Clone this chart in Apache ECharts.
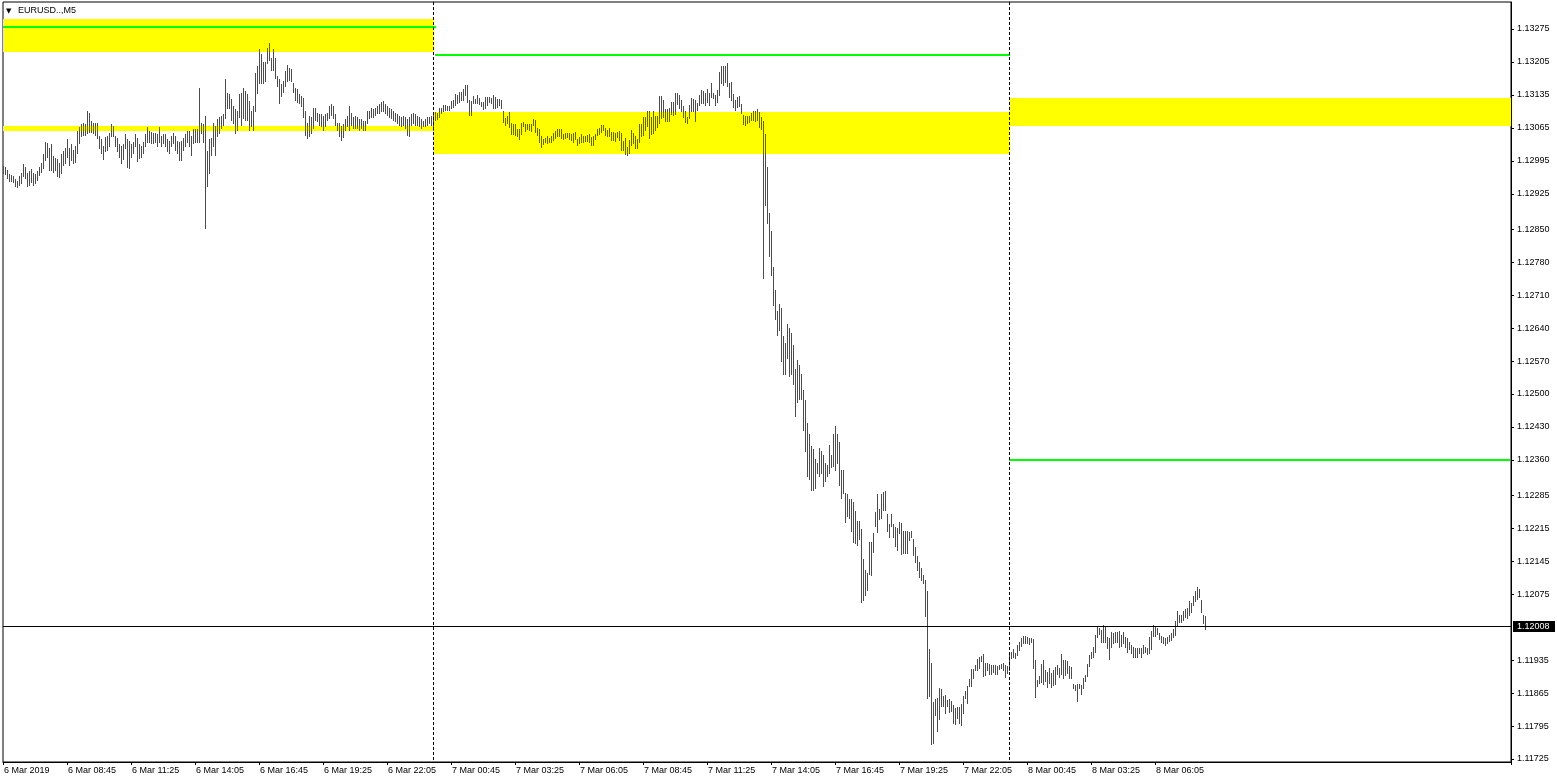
<!DOCTYPE html>
<html><head><meta charset="utf-8">
<script src="https://cdn.jsdelivr.net/npm/echarts@6/dist/echarts.min.js"></script>
<style>html,body{margin:0;padding:0;background:#fff;}#c{width:1557px;height:783px;}</style>
</head><body><div id="c"></div>
<script>
const chartTitle = 'EURUSD..,M5';
const slotCount = 754;
const timeTickStep = 32;
const timeTickLabels = ['6 Mar 2019','6 Mar 08:45','6 Mar 11:25','6 Mar 14:05','6 Mar 16:45','6 Mar 19:25','6 Mar 22:05','7 Mar 00:45','7 Mar 03:25','7 Mar 06:05','7 Mar 08:45','7 Mar 11:25','7 Mar 14:05','7 Mar 16:45','7 Mar 19:25','7 Mar 22:05','8 Mar 00:45','8 Mar 03:25','8 Mar 06:05'];
const priceTicks = [1.11725,1.11795,1.11865,1.11935,1.12075,1.12145,1.12215,1.12285,1.12360,1.12430,1.12500,1.12570,1.12640,1.12710,1.12780,1.12850,1.12925,1.12995,1.13065,1.13135,1.13205,1.13275];
const priceMin = 1.117186;
const priceMax = 1.133323;
const currentPrice = 1.12008;

const highs = [
1.12983,1.12980,1.12975,1.12965,1.12963,1.12962,1.12955,1.12951,1.12962,1.12969,
1.12987,1.12980,1.12969,1.12972,1.12976,1.12969,1.12965,1.12972,1.12980,1.12990,
1.13008,1.13033,1.13031,1.13022,1.13029,1.13004,1.13001,1.12997,1.12990,1.13008,
1.13015,1.13022,1.13040,1.13022,1.13029,1.13018,1.13026,1.13057,1.13065,1.13072,
1.13074,1.13072,1.13100,1.13096,1.13079,1.13074,1.13074,1.13074,1.13047,1.13040,
1.13026,1.13045,1.13047,1.13054,1.13072,1.13068,1.13047,1.13043,1.13029,1.13026,
1.13029,1.13050,1.13040,1.13036,1.13029,1.13033,1.13050,1.13043,1.13029,1.13026,
1.13033,1.13050,1.13065,1.13057,1.13055,1.13054,1.13054,1.13052,1.13065,1.13047,
1.13050,1.13050,1.13040,1.13036,1.13047,1.13054,1.13047,1.13036,1.13033,1.13036,
1.13043,1.13050,1.13057,1.13057,1.13047,1.13061,1.13061,1.13061,1.13149,1.13075,
1.13072,1.13089,1.13015,1.13040,1.13043,1.13075,1.13068,1.13082,1.13086,1.13089,
1.13093,1.13167,1.13139,1.13135,1.13125,1.13111,1.13103,1.13100,1.13135,1.13139,
1.13149,1.13142,1.13135,1.13121,1.13100,1.13111,1.13181,1.13195,1.13231,1.13220,
1.13203,1.13203,1.13234,1.13245,1.13213,1.13231,1.13213,1.13174,1.13167,1.13157,
1.13164,1.13185,1.13197,1.13192,1.13188,1.13160,1.13149,1.13146,1.13135,1.13132,
1.13128,1.13100,1.13075,1.13089,1.13086,1.13107,1.13107,1.13096,1.13093,1.13093,
1.13089,1.13093,1.13096,1.13111,1.13114,1.13111,1.13093,1.13075,1.13075,1.13068,
1.13072,1.13082,1.13089,1.13111,1.13096,1.13086,1.13089,1.13086,1.13082,1.13082,
1.13079,1.13079,1.13100,1.13100,1.13107,1.13105,1.13107,1.13111,1.13114,1.13118,
1.13121,1.13114,1.13111,1.13107,1.13103,1.13100,1.13096,1.13093,1.13089,1.13086,
1.13089,1.13086,1.13082,1.13086,1.13093,1.13096,1.13093,1.13089,1.13086,1.13082,
1.13079,1.13082,1.13086,1.13086,1.13089,1.13093,
1.13097,1.13095,1.13107,1.13107,1.13112,1.13112,1.13110,1.13110,1.13121,1.13124,
1.13135,1.13133,1.13140,1.13140,1.13146,1.13154,1.13154,1.13124,1.13122,1.13131,
1.13126,1.13133,1.13128,1.13119,1.13119,1.13130,1.13130,1.13130,1.13128,1.13133,
1.13130,1.13126,1.13126,1.13124,1.13100,1.13085,1.13089,1.13097,1.13075,1.13073,
1.13073,1.13062,1.13062,1.13075,1.13076,1.13073,1.13073,1.13073,1.13073,1.13083,
1.13080,1.13064,1.13061,1.13047,1.13041,1.13043,1.13047,1.13043,1.13047,1.13054,
1.13057,1.13061,1.13062,1.13062,1.13050,1.13054,1.13054,1.13054,1.13050,1.13054,
1.13055,1.13041,1.13045,1.13050,1.13047,1.13047,1.13048,1.13050,1.13045,1.13047,
1.13050,1.13062,1.13064,1.13071,1.13071,1.13064,1.13059,1.13064,1.13055,1.13055,
1.13054,1.13055,1.13057,1.13054,1.13036,1.13043,1.13024,1.13039,1.13059,1.13054,
1.13047,1.13041,1.13073,1.13073,1.13088,1.13088,1.13100,1.13100,1.13088,1.13100,
1.13090,1.13090,1.13131,1.13131,1.13123,1.13103,1.13103,1.13107,1.13119,1.13119,
1.13137,1.13137,1.13133,1.13124,1.13110,1.13100,1.13088,1.13112,1.13128,1.13126,
1.13124,1.13117,1.13133,1.13144,1.13142,1.13139,1.13146,1.13137,1.13160,1.13139,
1.13133,1.13144,1.13182,1.13196,1.13195,1.13196,1.13201,1.13160,1.13161,1.13135,
1.13123,1.13130,1.13131,1.13114,1.13092,1.13090,1.13089,1.13090,1.13095,1.13100,
1.13100,1.13103,1.13097,1.13088,
1.13078,1.13050,1.12981,1.12884,1.12844,1.12769,1.12719,1.12676,1.12691,1.12681,
1.12623,1.12608,1.12648,1.12638,1.12629,
1.12604,1.12553,1.12572,1.12560,1.12541,1.12507,1.12487,1.12437,1.12415,1.12388,
1.12383,1.12360,1.12352,1.12385,1.12378,1.12369,1.12353,1.12349,1.12390,1.12369,
1.12413,1.12432,1.12415,1.12397,1.12337,1.12337,1.12289,1.12286,1.12275,1.12275,
1.12270,1.12250,1.12229,1.12229,1.12213,1.12148,1.12125,1.12119,1.12185,1.12185,
1.12204,1.12248,1.12286,1.12255,1.12286,1.12291,1.12293,1.12245,1.12222,1.12245,
1.12222,1.12217,1.12215,1.12227,1.12226,1.12207,1.12208,1.12208,1.12206,1.12208,
1.12192,1.12173,1.12155,1.12142,1.12130,1.12114,1.12105,1.12081,1.11958,1.11927,
1.11845,1.11852,1.11854,1.11875,1.11873,1.11858,1.11859,1.11849,1.11851,1.11847,
1.11838,1.11833,1.11835,1.11835,1.11840,1.11858,1.11868,1.11879,1.11893,1.11914,
1.11914,1.11923,1.11937,1.11941,1.11943,1.11946,1.11928,1.11928,1.11925,1.11923,
1.11923,1.11923,1.11921,1.11923,
1.11925,1.11928,1.11923,1.11921,1.11946,1.11951,1.11957,1.11950,1.11965,1.11972,
1.11981,1.11986,1.11985,1.11984,1.11981,1.11981,1.11979,1.11934,1.11891,1.11900,
1.11925,1.11934,1.11913,1.11908,1.11918,1.11906,1.11913,1.11920,1.11923,1.11918,
1.11946,1.11935,1.11935,1.11932,1.11921,1.11920,1.11884,1.11882,1.11884,1.11884,
1.11882,1.11896,1.11903,1.11925,1.11944,1.11951,1.11962,1.11988,1.12005,1.12003,
1.11998,1.12008,1.12007,1.11984,1.11981,1.11993,1.11991,1.11993,1.11993,1.11996,
1.11988,1.11993,1.11984,1.11981,1.11972,1.11967,1.11962,1.11960,1.11960,1.11960,
1.11960,1.11967,1.11962,1.11960,1.11984,1.11996,1.12008,1.12006,1.12003,1.11991,
1.11986,1.11984,1.11981,1.11984,1.11988,1.11991,1.11999,1.12017,1.12038,1.12029,
1.12029,1.12038,1.12043,1.12045,1.12059,1.12056,1.12071,1.12081,1.12090,1.12085,
1.12061,1.12029,1.12027
];

const lows = [
1.12969,1.12968,1.12958,1.12953,1.12953,1.12951,1.12941,1.12939,1.12944,1.12948,
1.12962,1.12958,1.12941,1.12944,1.12951,1.12944,1.12948,1.12955,1.12965,1.12972,
1.12980,1.12997,1.13004,1.12976,1.12976,1.12972,1.12976,1.12962,1.12960,1.12969,
1.12987,1.12990,1.13004,1.12987,1.12997,1.12990,1.12992,1.13011,1.13033,1.13047,
1.13050,1.13050,1.13054,1.13057,1.13057,1.13054,1.13050,1.13043,1.13022,1.13011,
1.12999,1.13015,1.13017,1.13026,1.13047,1.13047,1.13026,1.13015,1.13004,1.12990,
1.12999,1.13022,1.12983,1.12980,1.13004,1.13011,1.13026,1.12994,1.13001,1.13004,
1.13011,1.13026,1.13036,1.13036,1.13033,1.13033,1.13036,1.13026,1.13036,1.13027,
1.13033,1.13026,1.13015,1.13011,1.13026,1.13033,1.13018,1.13011,1.12997,1.12997,
1.13018,1.13026,1.13036,1.13026,1.13008,1.13033,1.13036,1.13034,1.13036,1.13054,
1.13036,1.12852,1.12942,1.12969,1.13008,1.13026,1.13008,1.13047,1.13054,1.13065,
1.13072,1.13086,1.13107,1.13107,1.13082,1.13075,1.13054,1.13061,1.13089,1.13072,
1.13086,1.13082,1.13082,1.13061,1.13068,1.13060,1.13100,1.13139,1.13160,1.13160,
1.13160,1.13164,1.13203,1.13210,1.13188,1.13187,1.13171,1.13153,1.13118,1.13132,
1.13142,1.13153,1.13164,1.13167,1.13164,1.13142,1.13125,1.13121,1.13118,1.13111,
1.13089,1.13050,1.13043,1.13047,1.13054,1.13065,1.13082,1.13079,1.13072,1.13068,
1.13061,1.13068,1.13082,1.13086,1.13093,1.13086,1.13072,1.13061,1.13047,1.13040,
1.13045,1.13061,1.13068,1.13061,1.13072,1.13065,1.13065,1.13065,1.13061,1.13065,
1.13061,1.13061,1.13075,1.13086,1.13089,1.13089,1.13093,1.13096,1.13096,1.13100,
1.13100,1.13096,1.13093,1.13089,1.13086,1.13082,1.13079,1.13075,1.13072,1.13068,
1.13072,1.13065,1.13050,1.13048,1.13072,1.13075,1.13072,1.13072,1.13068,1.13065,
1.13068,1.13068,1.13072,1.13075,1.13072,1.13061,
1.13082,1.13083,1.13089,1.13097,1.13100,1.13103,1.13103,1.13103,1.13107,1.13110,
1.13114,1.13117,1.13121,1.13124,1.13124,1.13135,1.13121,1.13092,1.13092,1.13117,
1.13117,1.13117,1.13116,1.13112,1.13106,1.13107,1.13114,1.13119,1.13117,1.13107,
1.13107,1.13110,1.13114,1.13107,1.13078,1.13071,1.13075,1.13066,1.13052,1.13052,
1.13050,1.13047,1.13042,1.13052,1.13069,1.13059,1.13062,1.13061,1.13059,1.13071,
1.13057,1.13050,1.13036,1.13025,1.13031,1.13036,1.13032,1.13034,1.13036,1.13039,
1.13043,1.13047,1.13047,1.13043,1.13041,1.13043,1.13045,1.13041,1.13039,1.13036,
1.13041,1.13029,1.13032,1.13034,1.13036,1.13038,1.13038,1.13034,1.13029,1.13029,
1.13041,1.13050,1.13052,1.13057,1.13061,1.13050,1.13047,1.13048,1.13039,1.13039,
1.13038,1.13045,1.13039,1.13018,1.13018,1.13010,1.13008,1.13011,1.13029,1.13032,
1.13022,1.13022,1.13036,1.13047,1.13050,1.13061,1.13069,1.13043,1.13052,1.13054,
1.13061,1.13066,1.13075,1.13085,1.13089,1.13080,1.13080,1.13080,1.13095,1.13092,
1.13095,1.13116,1.13107,1.13100,1.13088,1.13078,1.13075,1.13085,1.13100,1.13100,
1.13080,1.13103,1.13114,1.13117,1.13117,1.13114,1.13121,1.13114,1.13131,1.13128,
1.13114,1.13121,1.13135,1.13160,1.13156,1.13163,1.13154,1.13131,1.13124,1.13110,
1.13103,1.13110,1.13112,1.13096,1.13073,1.13071,1.13076,1.13078,1.13082,1.13082,
1.13080,1.13082,1.13066,1.13062,
1.12746,1.12901,1.12864,1.12793,1.12753,1.12689,1.12659,1.12625,1.12636,1.12569,
1.12543,1.12543,1.12577,1.12538,1.12542,
1.12521,1.12453,1.12484,1.12489,1.12490,1.12424,1.12378,1.12326,1.12319,1.12296,
1.12296,1.12300,1.12333,1.12325,1.12332,1.12305,1.12316,1.12325,1.12332,1.12345,
1.12347,1.12339,1.12353,1.12307,1.12279,1.12289,1.12229,1.12240,1.12236,1.12210,
1.12185,1.12183,1.12180,1.12192,1.12059,1.12063,1.12073,1.12084,1.12118,1.12116,
1.12165,1.12220,1.12206,1.12234,1.12236,1.12253,1.12254,1.12210,1.12197,1.12219,
1.12197,1.12178,1.12169,1.12204,1.12161,1.12162,1.12162,1.12162,1.12190,1.12197,
1.12158,1.12144,1.12127,1.12112,1.12105,1.12098,1.12029,1.11854,1.11859,1.11757,
1.11760,1.11819,1.11785,1.11810,1.11838,1.11838,1.11822,1.11838,1.11824,1.11826,
1.11801,1.11800,1.11812,1.11801,1.11797,1.11822,1.11854,1.11843,1.11879,1.11879,
1.11897,1.11913,1.11914,1.11918,1.11932,1.11902,1.11904,1.11914,1.11906,1.11906,
1.11909,1.11906,1.11906,1.11916,
1.11918,1.11914,1.11900,1.11907,1.11914,1.11939,1.11941,1.11939,1.11946,1.11957,
1.11964,1.11972,1.11971,1.11972,1.11969,1.11974,1.11918,1.11856,1.11880,1.11887,
1.11889,1.11884,1.11891,1.11877,1.11886,1.11877,1.11882,1.11884,1.11906,1.11899,
1.11906,1.11896,1.11903,1.11908,1.11896,1.11896,1.11875,1.11872,1.11849,1.11875,
1.11863,1.11875,1.11891,1.11901,1.11923,1.11939,1.11941,1.11953,1.11984,1.11991,
1.11974,1.11974,1.11974,1.11960,1.11937,1.11962,1.11972,1.11974,1.11974,1.11962,
1.11965,1.11972,1.11962,1.11953,1.11958,1.11951,1.11941,1.11941,1.11941,1.11950,
1.11941,1.11951,1.11953,1.11948,1.11951,1.11958,1.11986,1.11986,1.11991,1.11979,
1.11974,1.11971,1.11967,1.11971,1.11976,1.11978,1.11984,1.11988,1.12008,1.12015,
1.12015,1.12020,1.12026,1.12024,1.12031,1.12038,1.12052,1.12061,1.12064,1.12068,
1.12038,1.12013,1.12001
];

// day separators (bar index of midnight)
const daySeparators = [215, 503];
// yellow zones
const zoneStart = [0, 0, 215, 503];
const zoneEnd = [214, 214, 502, 753];
const zoneTop = [1.13296, 1.13069, 1.13099, 1.13128];
const zoneBottom = [1.13227, 1.13059, 1.13010, 1.13070];
// green levels
const levelStart = [0, 216, 503];
const levelEnd = [216, 503, 753];
const levelPrice = [1.13280, 1.13220, 1.12360];

const categories = Array.from({length: slotCount}, (_, i) => i);
const barData = highs.map((h, i) => [i, lows[i], h]);
const zoneData = zoneStart.map((s, k) => [s, zoneEnd[k], zoneTop[k], zoneBottom[k]]);
const levelData = levelStart.map((s, k) => [s, levelEnd[k], levelPrice[k]]);
const sepData = daySeparators.map(i => [i, currentPrice]);
const priceData = [[0, currentPrice]];

const FONT = 'Liberation Sans';
const chart = echarts.init(document.getElementById('c'), null, {renderer: 'canvas'});
const showTick = (idx) => idx % timeTickStep === 0 && (idx / timeTickStep) < timeTickLabels.length;

chart.setOption({
  animation: false,
  backgroundColor: '#ffffff',
  title: [
    {text: '▼', left: 6, top: 8, padding: 0, textStyle: {fontSize: 7, color: '#000', fontWeight: 'normal', fontFamily: 'DejaVu Sans'}},
    {text: chartTitle, left: 18, top: 6, padding: 0, textStyle: {fontSize: 9, color: '#000', fontWeight: 'normal', fontFamily: FONT}}
  ],
  grid: {left: 3, right: 46, top: 2, bottom: 21, show: true, borderColor: '#000', borderWidth: 1, backgroundColor: 'transparent'},
  xAxis: {
    type: 'category', data: categories, boundaryGap: true,
    axisLine: {show: true, lineStyle: {color: '#000', width: 1}},
    axisTick: {show: true, interval: (idx) => showTick(idx), length: 3, lineStyle: {color: '#000'}},
    axisLabel: {
      show: true, interval: (idx) => showTick(idx), align: 'left', margin: 4,
      fontSize: 9, color: '#000', fontFamily: FONT,
      formatter: (v, idx) => showTick(idx) ? timeTickLabels[idx / timeTickStep] : ''
    },
    splitLine: {show: false}
  },
  yAxis: {
    type: 'value', position: 'right', min: priceMin, max: priceMax, scale: true,
    axisLine: {show: true, lineStyle: {color: '#000', width: 1}},
    axisTick: {show: true, length: 3, customValues: priceTicks, lineStyle: {color: '#000'}},
    axisLabel: {show: true, customValues: priceTicks, margin: 6, fontSize: 9, color: '#000', fontFamily: FONT,
      formatter: (v) => v.toFixed(5)},
    splitLine: {show: false}
  },
  series: [
    {
      type: 'custom', name: 'zones', data: zoneData, z: 1, silent: true,
      encode: {x: [0, 1], y: [2, 3]},
      renderItem: (params, api) => {
        const p1 = api.coord([api.value(0), api.value(2)]);
        const p2 = api.coord([api.value(1), api.value(3)]);
        const x1 = Math.round(p1[0]) - 1, x2 = Math.round(p2[0]) + 1;
        const y1 = Math.round(p1[1]), y2 = Math.round(p2[1]);
        return {type: 'rect', shape: {x: x1, y: y1, width: x2 - x1, height: y2 - y1}, style: {fill: '#ffff00'}};
      }
    },
    {
      type: 'custom', name: 'bars', data: barData, z: 3, silent: true, clip: true,
      encode: {x: 0, y: [1, 2]},
      renderItem: (params, api) => {
        const lo = api.coord([api.value(0), api.value(1)]);
        const hi = api.coord([api.value(0), api.value(2)]);
        const x = Math.round(lo[0]) - 1;
        const yt = Math.floor(hi[1]);
        const yb = Math.round(lo[1]);
        return {type: 'rect', shape: {x: x, y: yt, width: 1, height: Math.max(1, yb - yt + 1)}, style: {fill: '#ff0000'}};
      }
    },
    {
      type: 'custom', name: 'levels', data: levelData, z: 4, silent: true,
      encode: {x: [0, 1], y: 2},
      renderItem: (params, api) => {
        const p1 = api.coord([api.value(0), api.value(2)]);
        const p2 = api.coord([api.value(1), api.value(2)]);
        const y = Math.round(p1[1]);
        return {type: 'line', shape: {x1: Math.round(p1[0]) - 1, y1: y, x2: Math.round(p2[0]), y2: y},
          style: {stroke: '#00ff00', lineWidth: 2}};
      }
    },
    {
      type: 'custom', name: 'separators', data: sepData, z: 5, silent: true,
      encode: {x: 0, y: 1},
      renderItem: (params, api) => {
        const p = api.coord([api.value(0), api.value(1)]);
        const cs = params.coordSys;
        const x = Math.round(p[0]) - 0.5;
        return {type: 'line', shape: {x1: x, y1: cs.y, x2: x, y2: cs.y + cs.height},
          style: {stroke: '#000', lineWidth: 1, lineDash: [3, 2]}};
      }
    },
    {
      type: 'custom', name: 'price', data: priceData, z: 6, silent: true, clip: false,
      encode: {x: 0, y: 1},
      renderItem: (params, api) => {
        const p = api.coord([api.value(0), api.value(1)]);
        const cs = params.coordSys;
        const y = Math.round(p[1]) + 0.5;
        const bx = cs.x + cs.width + 2;
        return {type: 'group', children: [
          {type: 'line', shape: {x1: cs.x, y1: y, x2: cs.x + cs.width, y2: y}, style: {stroke: '#000', lineWidth: 1}},
          {type: 'rect', shape: {x: bx, y: Math.round(p[1]) - 5, width: 42, height: 11}, style: {fill: '#000'}},
          {type: 'text', x: bx + 4, y: y, style: {text: api.value(1).toFixed(5), fill: '#fff', fontSize: 9,
            fontFamily: FONT, verticalAlign: 'middle', align: 'left'}}
        ]};
      }
    }
  ]
});
</script>
</body></html>
